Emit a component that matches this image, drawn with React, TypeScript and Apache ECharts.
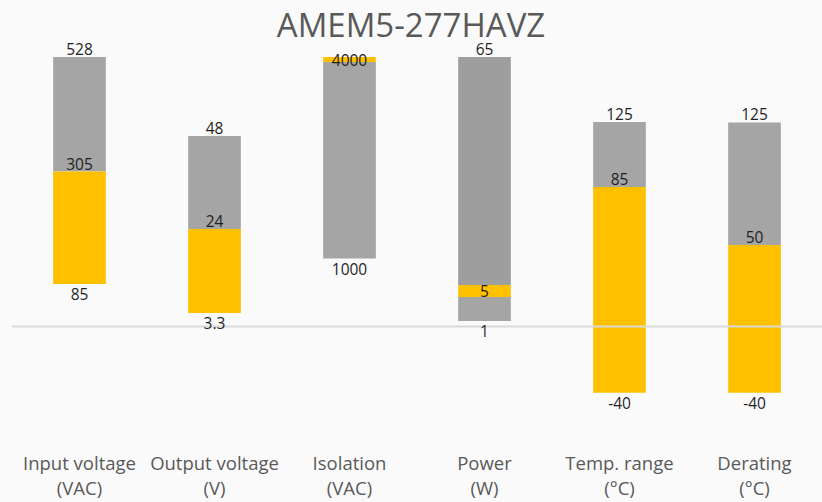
import React, { useEffect, useRef } from "react";
import * as echarts from "echarts";

const title = "AMEM5-277HAVZ";
const categories = [
  "Input voltage\n(VAC)",
  "Output voltage\n(V)",
  "Isolation\n(VAC)",
  "Power\n(W)",
  "Temp. range\n(°C)",
  "Derating\n(°C)",
];
// Segment boundaries on a shared normalised scale (0 = baseline, 100 = tallest bar)
const grayTop = [100, 70.7, 100, 100, 75.9, 75.7];
const yellowTop = [57.5, 36.2, 100, 15.4, 51.8, 30.2];
const yellowBottom = [15.8, 5.0, 98.1, 10.9, -24.6, -24.6];
const grayBottom = [15.8, 5.0, 25.2, 2.0, -24.6, -24.6];
// Value labels
const topLabels = ["528", "48", "4000", "65", "125", "125"];
const midLabels = ["305", "24", "", "5", "85", "50"];
const bottomLabels = ["85", "3.3", "1000", "1", "-40", "-40"];
const baseline = [0];

const GRAY = "#A5A5A5";
const DARK_GRAY = "#9E9E9E";
const YELLOW = "#FFC000";
const topInside = [false, false, true, false, false, false];
const midInside = [false, false, false, true, false, false];
const darkUpper = [false, false, false, true, false, false];

export default function App() {
  const ref = useRef<HTMLDivElement>(null);
  useEffect(() => {
    if (!ref.current) return;
    const chart = echarts.init(ref.current, undefined, { renderer: "svg" });

    const segments: number[][] = [];
    categories.forEach((_, i) => {
      if (grayTop[i] > yellowTop[i]) segments.push([i, yellowTop[i], grayTop[i], darkUpper[i] ? 2 : 0]);
      if (yellowTop[i] > yellowBottom[i]) segments.push([i, yellowBottom[i], yellowTop[i], 1]);
      if (yellowBottom[i] > grayBottom[i]) segments.push([i, grayBottom[i], yellowBottom[i], 0]);
    });

    const labels: { cat: number; y: number; text: string; dy: number }[] = [];
    categories.forEach((_, i) => {
      if (topInside[i]) {
        labels.push({ cat: i, y: (grayTop[i] + yellowBottom[i]) / 2, text: topLabels[i], dy: 0 });
      } else {
        labels.push({ cat: i, y: Math.max(grayTop[i], yellowTop[i]), text: topLabels[i], dy: -8 });
      }
      if (midLabels[i]) {
        if (midInside[i]) {
          labels.push({ cat: i, y: (yellowTop[i] + yellowBottom[i]) / 2, text: midLabels[i], dy: 0 });
        } else {
          labels.push({ cat: i, y: yellowTop[i], text: midLabels[i], dy: -8 });
        }
      }
      labels.push({ cat: i, y: Math.min(grayBottom[i], yellowBottom[i]), text: bottomLabels[i], dy: 10 });
    });

    const colors = [GRAY, YELLOW, DARK_GRAY];

    chart.setOption({
      animation: false,
      backgroundColor: "#FAFAFA",
      title: {
        text: title,
        left: "center",
        top: 9,
        padding: 0,
        textStyle: {
          fontFamily: "Open Sans",
          fontSize: 33,
          lineHeight: 30,
          fontWeight: "normal",
          color: "#595959",
        },
      },
      grid: { left: 12, width: 812, top: 30.05, height: 404.25 },
      xAxis: {
        type: "category",
        data: categories,
        axisLine: { show: false, onZero: false },
        axisTick: { show: false },
        splitLine: { show: false },
        axisLabel: {
          interval: 0,
          margin: 15,
          fontFamily: "Open Sans",
          fontSize: 18.5,
          lineHeight: 25.5,
          color: "#595959",
        },
      },
      yAxis: {
        type: "value",
        min: -40,
        max: 110,
        show: false,
        splitLine: { show: false },
      },
      series: [
        {
          type: "custom",
          data: segments,
          encode: { x: 0, y: [1, 2] },
          renderItem: (params: any, api: any) => {
            const cat = api.value(0);
            const lo = api.value(1);
            const hi = api.value(2);
            const p1 = api.coord([cat, hi]);
            const p2 = api.coord([cat, lo]);
            const band = api.size([1, 0])[0];
            const w = band * 0.39;
            return {
              type: "rect",
              shape: { x: p1[0] - w / 2, y: p1[1], width: w, height: p2[1] - p1[1] },
              style: { fill: colors[api.value(3)] },
            };
          },
          z: 2,
        },
        {
          type: "custom",
          data: baseline.map((v) => [0, v]),
          encode: { x: 0, y: 1 },
          renderItem: (params: any, api: any) => {
            const p = api.coord([0, api.value(1)]);
            const cs = params.coordSys;
            return {
              type: "line",
              shape: { x1: cs.x, y1: p[1], x2: cs.x + cs.width, y2: p[1] },
              style: { stroke: "#D9D9D9", lineWidth: 2 },
            };
          },
          z: 2.5,
        },
        {
          type: "custom",
          data: labels.map((l) => [l.cat, l.y]),
          encode: { x: 0, y: 1 },
          renderItem: (params: any, api: any) => {
            const l = labels[params.dataIndex];
            const p = api.coord([l.cat, l.y]);
            return {
              type: "text",
              x: p[0],
              y: p[1] + l.dy,
              style: {
                text: l.text,
                align: "center",
                verticalAlign: "middle",
                fontFamily: "Open Sans",
                fontSize: 15.5,
                fill: "#1F1F1F",
              },
            };
          },
          z: 3,
        },
      ],
    });
    return () => chart.dispose();
  }, []);
  return (
    <div
      ref={ref}
      style={{ position: "fixed", left: 0, top: 0, width: 822, height: 502 }}
    />
  );
}
